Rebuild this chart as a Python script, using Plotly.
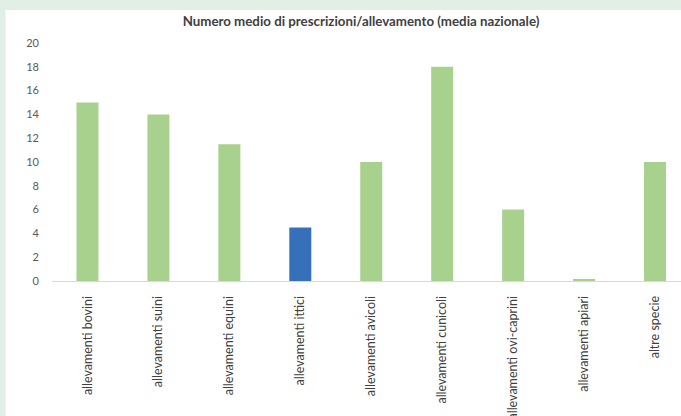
import plotly.graph_objects as go

categories = [
    "allevamenti bovini", "allevamenti suini", "allevamenti equini",
    "allevamenti ittici", "allevamenti avicoli", "allevamenti cunicoli",
    "allevamenti ovi-caprini", "allevamenti apiari", "altre specie",
]
values = [15, 14, 11.5, 4.5, 10, 18, 6, 0.1, 10]
highlight = "allevamenti ittici"
y_ticks = [0, 2, 4, 6, 8, 10, 12, 14, 16, 18, 20]

GREEN = "#A9D18E"
BLUE = "#3570B8"
BG = "#E2EFE5"
colors = [BLUE if c == highlight else GREEN for c in categories]

W, H = 681, 416
L, R_edge = 51.5, 681
T, B = 43, 281
pw, ph = R_edge - L, B - T

fig = go.Figure(go.Bar(
    x=list(range(len(categories))), y=values,
    marker=dict(color=colors, line=dict(width=0)),
    width=0.31,
))

fig.update_layout(
    width=W, height=H,
    margin=dict(l=L, r=W - R_edge, t=T, b=H - B, pad=0, autoexpand=False),
    paper_bgcolor=BG,
    plot_bgcolor="white",
    showlegend=False,
    font=dict(family="Lato, 'Open Sans', sans-serif", color="#595959"),
    title=dict(
        text="<b>Numero medio di prescrizioni/allevamento (media nazionale)</b>",
        x=361 / W, xanchor="center", y=1 - 21 / H, yanchor="middle",
        font=dict(size=13.3, color="#404040", family="Lato, sans-serif"),
    ),
    shapes=[dict(
        type="rect", xref="paper", yref="paper", layer="below",
        x0=(5 - L) / pw, x1=(W + 5 - L) / pw,
        y0=(B - (H + 5)) / ph, y1=(B - 10) / ph,
        fillcolor="white", line=dict(width=0),
    )],
)

fig.update_xaxes(
    automargin=False,
    range=[-0.5, (R_edge - L) / 71 - 0.5],
    tickmode="array", tickvals=list(range(len(categories))), ticktext=categories,
    tickangle=-90, showgrid=False, zeroline=False,
    showline=True, linecolor="#D9D9D9", linewidth=1,
    ticks="", ticklabelstandoff=9,
    tickfont=dict(size=12.5, color="#404040", family="Lato, sans-serif"),
)
fig.update_yaxes(
    automargin=False,
    range=[0, 20], tickmode="array", tickvals=y_ticks,
    showgrid=False, zeroline=False, showline=False, ticks="",
    ticklabelstandoff=12,
    tickfont=dict(size=11, color="#595959", family="Lato, sans-serif"),
)

fig.write_html(
    "out.html",
    config={"displayModeBar": False},
    post_script="document.body.style.margin='0';document.body.style.overflow='hidden';",
)
